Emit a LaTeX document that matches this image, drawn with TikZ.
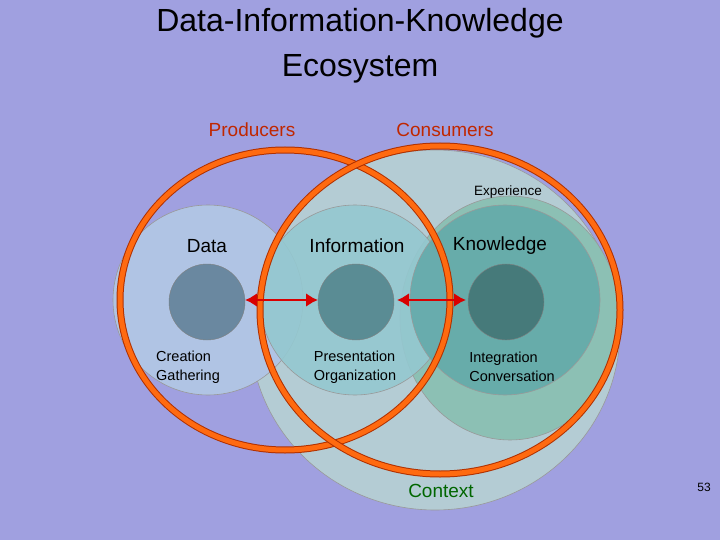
\documentclass[tikz,border=0pt]{standalone}
\usepackage{fontspec}
\setmainfont{Liberation Sans}
\usetikzlibrary{arrows.meta}
\definecolor{bg}{HTML}{A0A0E0}
\definecolor{ctx}{HTML}{B4CCD4}
\definecolor{exp}{HTML}{8CC0B4}
\definecolor{dat}{HTML}{B0C4E4}
\definecolor{inf}{HTML}{94C8D0}
\definecolor{kno}{HTML}{64AAAA}
\definecolor{ldat}{HTML}{6A88A0}
\definecolor{linf}{HTML}{5A8C94}
\definecolor{lkno}{HTML}{467A7A}
\definecolor{org}{HTML}{FF6A10}
\definecolor{orgd}{HTML}{B03000}
\definecolor{ctxt}{HTML}{006600}
\begin{document}
\begin{tikzpicture}[x=1pt,y=-1pt,
  circ/.style={draw=black!40,line width=0.6pt},
  ring/.style={draw=orgd,line width=7pt},
  ringin/.style={draw=org,line width=5pt},
  lbl/.style={font=\fontsize{19}{21}\selectfont},
  small/.style={font=\fontsize{14.5}{19}\selectfont,align=left},
  dbl/.style={draw=red!85!black,line width=2.5pt,{Latex[length=12pt,width=14pt]}-{Latex[length=12pt,width=14pt]}}]
\fill[bg] (0,0) rectangle (720,540);
\useasboundingbox (0,0) rectangle (720,540);
\node[font=\fontsize{32}{45}\selectfont,align=center] (title) at (360,46) {Data-Information-Knowledge\\Ecosystem};
\path[fill=ctx,circ] (435,330) ellipse [x radius=185,y radius=180];
\path[fill=exp,circ] (510,318) ellipse [x radius=110,y radius=122];
\path[fill=dat,circ] (208,300) circle (95);
\path[fill=inf,fill opacity=0.9,circ] (355,300) circle (95);
\path[fill=kno,fill opacity=0.9,circ] (505,300) circle (95);
\node[circle,fill=ldat,draw=black!50,minimum size=76pt,inner sep=0] (ld) at (207,302) {};
\node[circle,fill=linf,draw=black!50,minimum size=76pt,inner sep=0] (li) at (356,302) {};
\node[circle,fill=lkno,draw=black!50,minimum size=76pt,inner sep=0] (lk) at (506,302) {};
\draw[ring] (285,300) ellipse [x radius=165,y radius=150];
\draw[ringin] (285,300) ellipse [x radius=165,y radius=150];
\draw[ring] (440,310) ellipse [x radius=180,y radius=164];
\draw[ringin] (440,310) ellipse [x radius=180,y radius=164];
\coordinate (a1) at (245,300); \coordinate (a2) at (318,300);
\coordinate (b1) at (397,300); \coordinate (b2) at (466,300);
\draw[dbl] (a1) -- (a2);
\draw[dbl] (b1) -- (b2);
\node[lbl,text=orgd!80!red] (prod) at (252,130) {Producers};
\node[lbl,text=orgd!80!red] (cons) at (445,130) {Consumers};
\node[font=\fontsize{13.5}{15}\selectfont] (expl) at (508,192) {Experience};
\node[lbl] (dl) at (207,246) {Data};
\node[lbl] (il) at (357,246) {Information};
\node[lbl] (kl) at (500,246) {Knowledge};
\node[small] (dt) at (188,367) {Creation\\Gathering};
\node[small] (it) at (355,367) {Presentation\\Organization};
\node[small] (kt) at (512,367) {Integration\\Conversation};
\node[lbl,text=ctxt] (ctxl) at (441,491) {Context};
\node[font=\fontsize{12}{14}\selectfont] (pg) at (704,487) {53};
\end{tikzpicture}
\end{document}
